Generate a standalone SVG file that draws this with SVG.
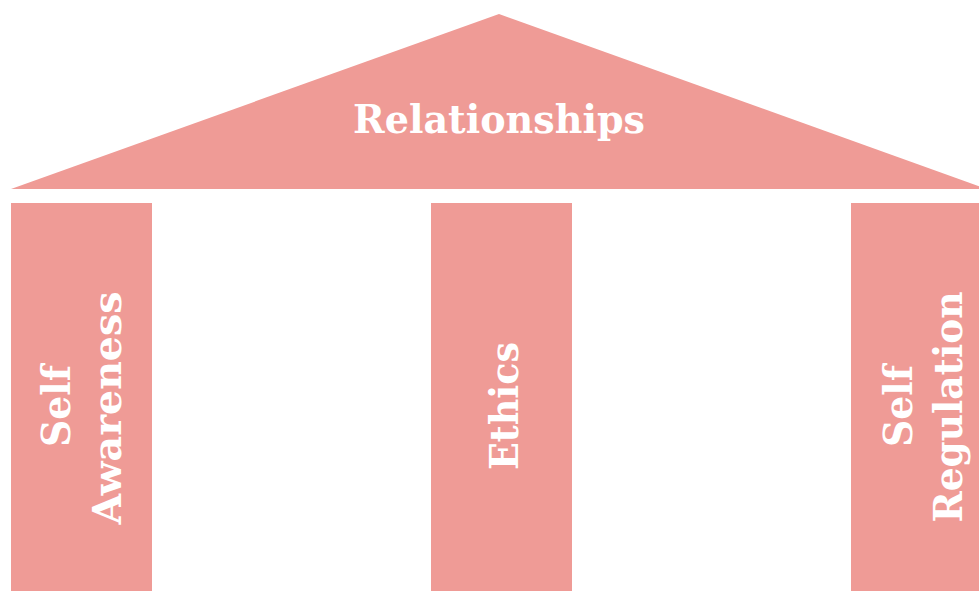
<svg xmlns="http://www.w3.org/2000/svg" width="979" height="591" viewBox="0 0 979 591">
  <style>
    .part { fill: #EF9B96; }
    .label { fill: #FFFFFF; font-family: "DejaVu Serif", "Liberation Serif", serif; font-weight: bold; font-size: 40px; text-anchor: middle; }
  </style>
  <rect width="979" height="591" fill="#FFFFFF"/>
  <g id="roof">
    <polygon class="part" points="11,189 499,14 987,189"/>
    <text class="label" x="499" y="133" textLength="292" lengthAdjust="spacingAndGlyphs">Relationships</text>
  </g>
  <g id="pillar-self-awareness">
    <rect class="part" x="11" y="203" width="141" height="400"/>
    <text class="label" transform="translate(70,406) rotate(-90)" textLength="82" lengthAdjust="spacingAndGlyphs">Self</text>
    <text class="label" transform="translate(121,408) rotate(-90)" textLength="233" lengthAdjust="spacingAndGlyphs">Awareness</text>
  </g>
  <g id="pillar-ethics">
    <rect class="part" x="431" y="203" width="141" height="400"/>
    <text class="label" transform="translate(518,406) rotate(-90)" textLength="128" lengthAdjust="spacingAndGlyphs">Ethics</text>
  </g>
  <g id="pillar-self-regulation">
    <rect class="part" x="851" y="203" width="141" height="400"/>
    <text class="label" transform="translate(912,406) rotate(-90)" textLength="82" lengthAdjust="spacingAndGlyphs">Self</text>
    <text class="label" transform="translate(962,407) rotate(-90)" textLength="231" lengthAdjust="spacingAndGlyphs">Regulation</text>
  </g>
  <g id="connectors"/>
</svg>
